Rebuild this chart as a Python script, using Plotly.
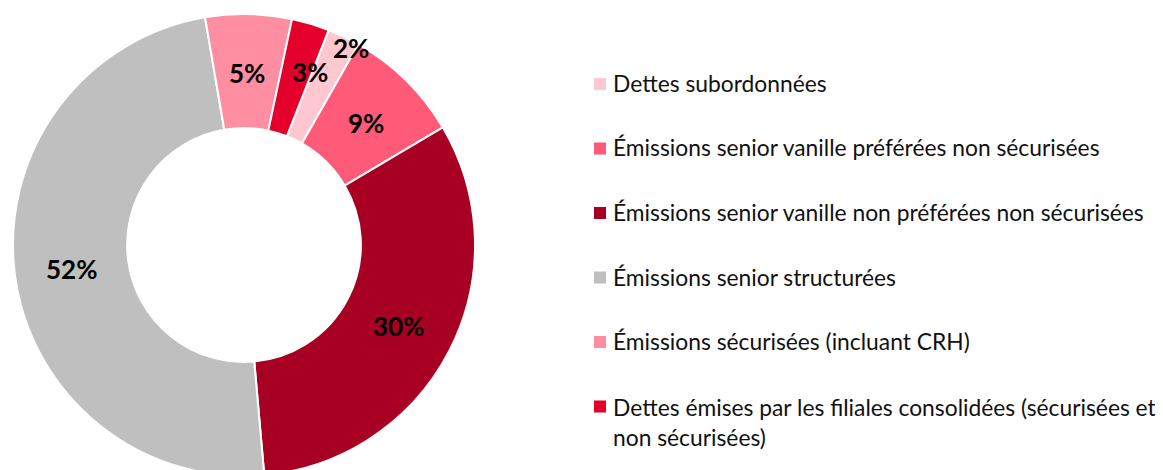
import math
import plotly.graph_objects as go

categories = [
    "Dettes subordonnées",
    "Émissions senior vanille préférées non sécurisées",
    "Émissions senior vanille non préférées non sécurisées",
    "Émissions senior structurées",
    "Émissions sécurisées (incluant CRH)",
    "Dettes émises par les filiales consolidées (sécurisées et<br>non sécurisées)",
]
# share of the ring
values = [2.28, 8.25, 32.1, 48.7, 6.03, 2.64]
# percentage labels as printed on the chart
pct_labels = ["2%", "9%", "30%", "52%", "5%", "3%"]
colors = ["#FFC7D0", "#FF5A78", "#A80022", "#BFBFBF", "#FF8EA2", "#E4002B"]

# ---- layout geometry (page pixels; the page body adds an 8px margin) ----
OFF = 8
W, H = 1163, 470
FONT = "Lato"
CX, CY, R_OUT = 244, 245, 231   # donut centre / radius on the page
HOLE = 0.506
ROTATION = 21.5


def px(x):
    return (x - OFF) / W


def py(y):
    return 1 - (y - OFF) / H


fig = go.Figure()
fig.add_trace(go.Pie(
    labels=categories,
    values=values,
    textinfo="none",
    marker=dict(colors=colors, line=dict(color="white", width=2)),
    hole=HOLE,
    sort=False,
    direction="clockwise",
    rotation=ROTATION,
    showlegend=False,
    domain=dict(x=[px(CX - R_OUT), px(CX + R_OUT)],
                y=[py(CY + R_OUT), py(CY - R_OUT)]),
))

# percentage labels placed at each slice's mid-angle (derived from values)
r_mid = R_OUT * (1 + HOLE) / 2
# radial / angular nudges for the thin slices whose label overflows
nudge = {0: (226 - r_mid, 2.7), 5: (187 - r_mid, 3.9)}
annotations = []
total = sum(values)
start = ROTATION
for i, (v, lab) in enumerate(zip(values, pct_labels)):
    span = 360 * v / total
    mid = start + span / 2
    start += span
    dr, da = nudge.get(i, (0, 0))
    ang = math.radians(mid + da)
    r = r_mid + dr
    x = CX + r * math.sin(ang)
    y = CY - r * math.cos(ang)
    annotations.append(dict(
        xref="paper", yref="paper", x=px(x), y=py(y + 2),
        xanchor="center", yanchor="middle", text=lab, showarrow=False,
        font=dict(family=FONT, size=26, color="black", weight="bold"),
    ))

# legend drawn as squares + text
shapes = []
y0, step = 84, 64.5
for i, (cat, col) in enumerate(zip(categories, colors)):
    yc = y0 + i * step
    shapes.append(dict(
        type="rect", xref="paper", yref="paper",
        x0=px(594), x1=px(606), y0=py(yc + 6), y1=py(yc - 6),
        fillcolor=col, line=dict(width=0),
    ))
    multi = "<br>" in cat
    annotations.append(dict(
        xref="paper", yref="paper", x=px(611),
        y=py(yc - 16) if multi else py(yc - 1),
        xanchor="left", yanchor="top" if multi else "middle",
        text=cat, showarrow=False, align="left",
        font=dict(family=FONT, size=22.8, color="#111111"),
    ))

fig.update_layout(
    width=W, height=H,
    margin=dict(l=0, r=0, t=0, b=0),
    paper_bgcolor="white", plot_bgcolor="white",
    shapes=shapes, annotations=annotations,
)

fig.write_html("out.html")
